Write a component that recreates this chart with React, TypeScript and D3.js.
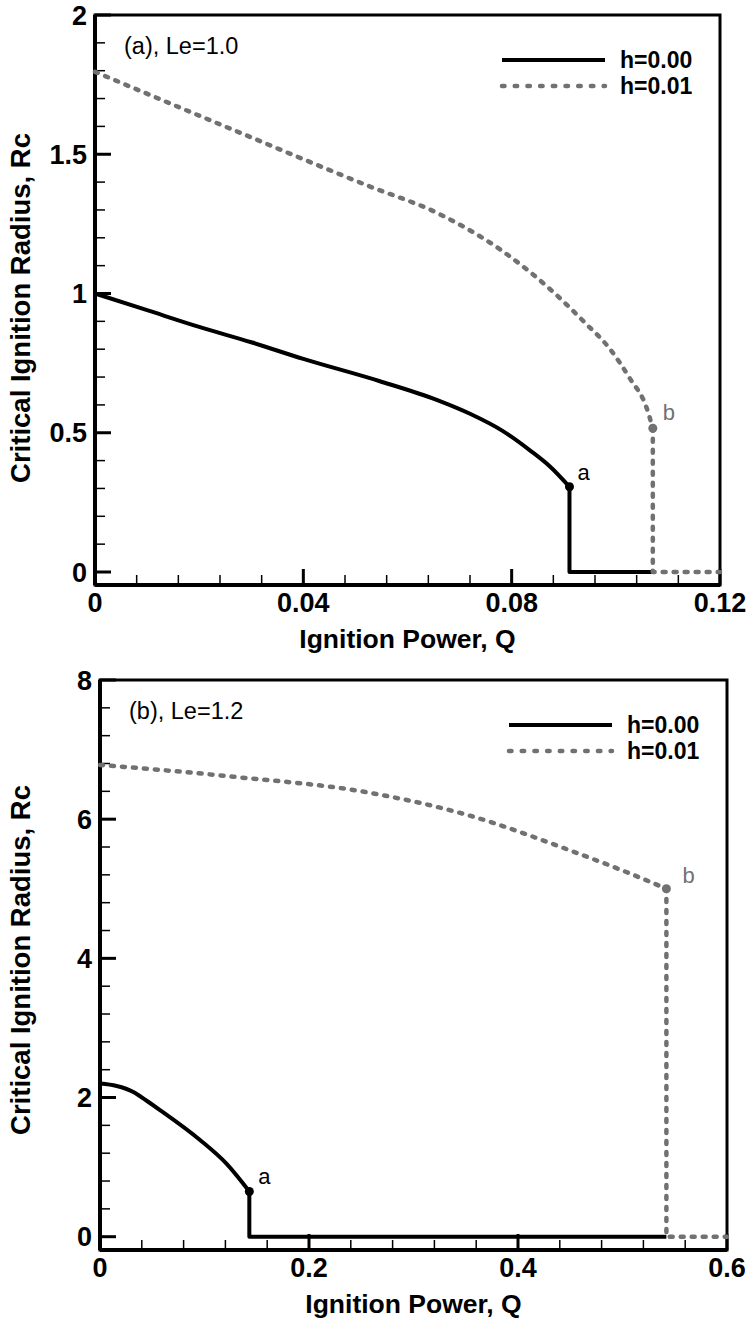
import React from "react";
import * as d3 from "d3";

// ---------- Data ----------
// Panel (a), Le = 1.0  — curve part ends at turning point "a"/"b", then drops to Rc = 0
const qA_h000 = [0, 0.01, 0.02, 0.03, 0.04, 0.0547, 0.0656, 0.072, 0.0784, 0.0835, 0.0874, 0.0911];
const rA_h000 = [1.0, 0.94, 0.88, 0.825, 0.765, 0.685, 0.618, 0.568, 0.505, 0.437, 0.378, 0.306];
const qA_h000_tail = [0.0911, 0.0911, 0.1071];
const rA_h000_tail = [0.306, 0, 0];
const qA_h001 = [0, 0.0266, 0.0528, 0.0656, 0.0784, 0.088, 0.0938, 0.0989, 0.1027, 0.1059, 0.1071];
const rA_h001 = [1.796, 1.587, 1.384, 1.29, 1.15, 1.005, 0.9, 0.8, 0.695, 0.59, 0.516];
const qA_h001_tail = [0.1071, 0.1071, 0.12];
const rA_h001_tail = [0.516, 0, 0];
const pointA_a = [0.0911, 0.306];
const pointA_b = [0.1071, 0.516];

// Panel (b), Le = 1.2
const qB_h000 = [0, 0.016, 0.0319, 0.045, 0.0574, 0.0957, 0.121, 0.1429];
const rB_h000 = [2.2, 2.165, 2.08, 1.95, 1.82, 1.39, 1.05, 0.65];
const qB_h000_tail = [0.1429, 0.1429, 0.542];
const rB_h000_tail = [0.65, 0, 0];
const qB_h001 = [0, 0.1276, 0.258, 0.354, 0.45, 0.507, 0.542];
const rB_h001 = [6.78, 6.61, 6.38, 6.05, 5.55, 5.22, 5.0];
const qB_h001_tail = [0.542, 0.542, 0.6];
const rB_h001_tail = [5.0, 0, 0];
const pointB_a = [0.1429, 0.65];
const pointB_b = [0.542, 5.0];

// Ticks
const xTicksA = [0, 0.04, 0.08, 0.12];
const xTickLabelsA = ["0", "0.04", "0.08", "0.12"];
const yTicksA = [0, 0.5, 1, 1.5, 2];
const yTickLabelsA = ["0", "0.5", "1", "1.5", "2"];
const xTicksB = [0, 0.2, 0.4, 0.6];
const xTickLabelsB = ["0", "0.2", "0.4", "0.6"];
const yTicksB = [0, 2, 4, 6, 8];
const yTickLabelsB = ["0", "2", "4", "6", "8"];

const legendLabels = ["h=0.00", "h=0.01"];
const xTitle = "Ignition Power, Q";
const yTitle = "Critical Ignition Radius, Rc";

const FONT = "'Liberation Sans', Arial, Helvetica, sans-serif";
const GRAY = "#717171";

type PanelProps = {
  left: number; right: number; top: number; zeroY: number; bottom: number;
  xMax: number; yMax: number;
  xTicks: number[]; xTickLabels: string[]; xMinorStep: number;
  yTicks: number[]; yTickLabels: string[]; yMinorStep: number;
  q0: number[]; r0: number[]; q0t: number[]; r0t: number[];
  q1: number[]; r1: number[]; q1t: number[]; r1t: number[];
  pa: number[]; pb: number[];
  panelLabel: string;
  yTitleCenter: number;
  aOff: number[]; bOff: number[];
};

function Panel(p: PanelProps) {
  const x = d3.scaleLinear().domain([0, p.xMax]).range([p.left, p.right]);
  const y = d3.scaleLinear().domain([0, p.yMax]).range([p.zeroY, p.top]);
  const smooth = d3.line<[number, number]>().x((d) => x(d[0])).y((d) => y(d[1])).curve(d3.curveMonotoneX);
  const straight = d3.line<[number, number]>().x((d) => x(d[0])).y((d) => y(d[1]));
  const zip = (a: number[], b: number[]) => a.map((q, i) => [q, b[i]] as [number, number]);
  const d0 = (smooth(zip(p.q0, p.r0)) || "") + (straight(zip(p.q0t, p.r0t)) || "").replace(/^M/, "L");
  const d1 = (smooth(zip(p.q1, p.r1)) || "") + (straight(zip(p.q1t, p.r1t)) || "").replace(/^M/, "L");

  const nMinorX = Math.round(p.xMax / p.xMinorStep);
  const minorX = d3.range(0, nMinorX + 1).map((i) => i * p.xMinorStep);
  const nMinorY = Math.round(p.yMax / p.yMinorStep);
  const minorY = d3.range(0, nMinorY + 1).map((i) => i * p.yMinorStep);

  const legX1 = p.right - 218;
  const legX2 = p.right - 115;
  const legTX = p.right - 100;
  const legY0 = p.top + 45;
  const legY1 = p.top + 71;

  return (
    <g>
      {minorY.map((v, i) => (
        <line key={"my" + i} x1={p.left} x2={p.left + 10} y1={y(v)} y2={y(v)} stroke="#000" strokeWidth={1.5} />
      ))}
      {minorX.map((v, i) => (
        <line key={"mx" + i} x1={x(v)} x2={x(v)} y1={p.bottom} y2={p.bottom - 10} stroke="#000" strokeWidth={1.5} />
      ))}
      {p.yTicks.map((v, i) => (
        <line key={"Y" + i} x1={p.left} x2={p.left + 16} y1={y(v)} y2={y(v)} stroke="#000" strokeWidth={3} />
      ))}
      {p.xTicks.map((v, i) => (
        <line key={"X" + i} x1={x(v)} x2={x(v)} y1={p.bottom} y2={p.bottom - 16} stroke="#000" strokeWidth={3} />
      ))}
      <rect x={p.left} y={p.top} width={p.right - p.left} height={p.bottom - p.top} fill="none" stroke="#000" strokeWidth={3} />
      <line x1={p.left} x2={p.left} y1={p.top} y2={p.bottom} stroke="#000" strokeWidth={4} />
      <line x1={p.left} x2={p.right} y1={p.bottom} y2={p.bottom} stroke="#000" strokeWidth={4} />

      {p.yTicks.map((v, i) => (
        <text key={"YL" + i} x={p.left - 8} y={y(v) + 9.5} textAnchor="end" fontFamily={FONT} fontWeight="bold" fontSize={27}>
          {p.yTickLabels[i]}
        </text>
      ))}
      {p.xTicks.map((v, i) => (
        <text key={"XL" + i} x={x(v)} y={p.bottom + 27} textAnchor="middle" fontFamily={FONT} fontWeight="bold" fontSize={27}>
          {p.xTickLabels[i]}
        </text>
      ))}

      <text x={(p.left + p.right) / 2} y={p.bottom + 63} textAnchor="middle" fontFamily={FONT} fontWeight="bold" fontSize={26.5}>
        {xTitle}
      </text>
      <text transform={`translate(30,${p.yTitleCenter}) rotate(-90)`} textAnchor="middle" fontFamily={FONT} fontWeight="bold" fontSize={27.5}>
        {yTitle}
      </text>

      <path d={d0} fill="none" stroke="#000" strokeWidth={4} strokeLinejoin="round" />
      <path d={d1} fill="none" stroke={GRAY} strokeWidth={4.5} strokeDasharray="3 8" strokeLinecap="round" strokeLinejoin="round" />

      <circle cx={x(p.pa[0])} cy={y(p.pa[1])} r={4.5} fill="#000" />
      <circle cx={x(p.pb[0])} cy={y(p.pb[1])} r={4.5} fill={GRAY} />
      <text x={x(p.pa[0]) + p.aOff[0]} y={y(p.pa[1]) + p.aOff[1]} fontFamily={FONT} fontSize={22} fill="#000">a</text>
      <text x={x(p.pb[0]) + p.bOff[0]} y={y(p.pb[1]) + p.bOff[1]} fontFamily={FONT} fontSize={22} fill={GRAY}>b</text>

      <text x={p.left + 29} y={p.top + 39} fontFamily={FONT} fontSize={23.5}>{p.panelLabel}</text>

      <line x1={legX1} x2={legX2} y1={legY0} y2={legY0} stroke="#000" strokeWidth={4} />
      <text x={legTX} y={legY0 + 7.5} fontFamily={FONT} fontWeight="bold" fontSize={23}>{legendLabels[0]}</text>
      <line x1={legX1} x2={legX2} y1={legY1} y2={legY1} stroke={GRAY} strokeWidth={4.5} strokeDasharray="2.5 10.2" strokeLinecap="round" />
      <text x={legTX} y={legY1 + 7.5} fontFamily={FONT} fontWeight="bold" fontSize={23}>{legendLabels[1]}</text>
    </g>
  );
}

export default function App() {
  return (
    <svg width={749} height={1319} style={{ position: "absolute", left: 0, top: 0, background: "#fff" }}>
      <rect x={0} y={0} width={749} height={1319} fill="#fff" />
      <Panel
        left={95} right={720} top={15} zeroY={572} bottom={585}
        xMax={0.12} yMax={2}
        xTicks={xTicksA} xTickLabels={xTickLabelsA} xMinorStep={0.008}
        yTicks={yTicksA} yTickLabels={yTickLabelsA} yMinorStep={0.1}
        q0={qA_h000} r0={rA_h000} q0t={qA_h000_tail} r0t={rA_h000_tail}
        q1={qA_h001} r1={rA_h001} q1t={qA_h001_tail} r1t={rA_h001_tail}
        pa={pointA_a} pb={pointA_b}
        panelLabel="(a), Le=1.0"
        yTitleCenter={308}
        aOff={[8, -7]} bOff={[10, -8]}
      />
      <Panel
        left={100} right={727} top={680} zeroY={1236.7} bottom={1250}
        xMax={0.6} yMax={8}
        xTicks={xTicksB} xTickLabels={xTickLabelsB} xMinorStep={0.04}
        yTicks={yTicksB} yTickLabels={yTickLabelsB} yMinorStep={0.4}
        q0={qB_h000} r0={rB_h000} q0t={qB_h000_tail} r0t={rB_h000_tail}
        q1={qB_h001} r1={rB_h001} q1t={qB_h001_tail} r1t={rB_h001_tail}
        pa={pointB_a} pb={pointB_b}
        panelLabel="(b), Le=1.2"
        yTitleCenter={960}
        aOff={[9, -7]} bOff={[16, -6]}
      />
    </svg>
  );
}
